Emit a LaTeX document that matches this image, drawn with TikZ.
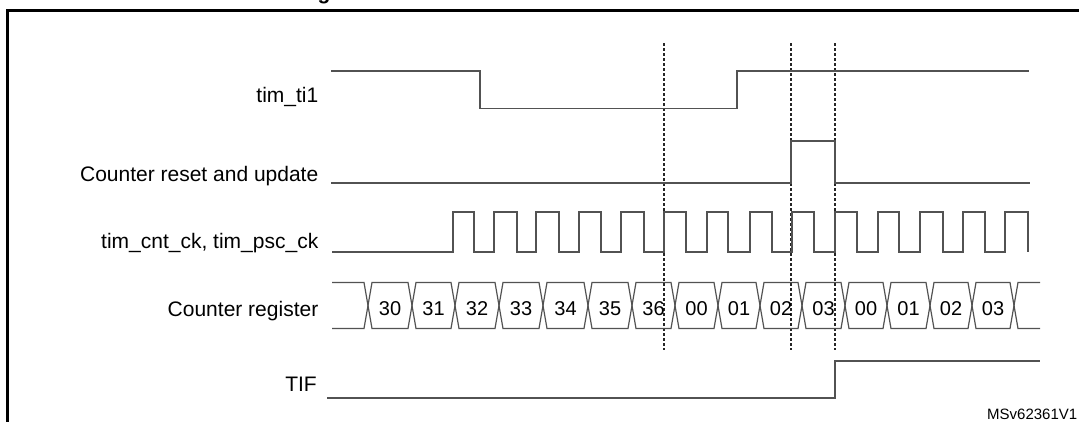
\documentclass[tikz,border=0pt]{standalone}
\usepackage{fontspec}
\setmainfont{Liberation Sans}
\begin{document}
\begin{tikzpicture}[x=1pt,y=-1pt,
  sig/.style={draw=black!68, line width=1.2pt, line join=miter},
  marker/.style={draw=black!85, line width=1.1pt, dash pattern=on 3pt off 2pt},
  lbl/.style={inner sep=0pt, anchor=base east, font=\fontsize{21}{25}\selectfont, text=black},
  val/.style={inner sep=0pt, anchor=base, font=\fontsize{20}{24}\selectfont, text=black}]
\useasboundingbox (0,0) rectangle (1079,421);
% frame
\draw[line width=3pt, black] (7,430) -- (7,10) -- (1090,10);
% partial title descender
\node[inner sep=0pt, anchor=base, font=\bfseries\fontsize{21}{25}\selectfont] (ttl) at (324,-0.5) {g};

% labels
\node[lbl] (l1) at (318.5,102) {tim\_ti1};
\node[lbl] (l2) at (318.5,181) {Counter reset and update};
\node[lbl] (l3) at (318.5,248) {tim\_cnt\_ck, tim\_psc\_ck};
\node[lbl] (l4) at (318.5,316) {Counter register};
\node[lbl] (l5) at (317,391) {TIF};

% dashed markers
\foreach \x in {664,791,835} \draw[marker] (\x,43) -- (\x,350);

% tim_ti1
\draw[sig] (331,71) -- (480,71) -- (480,108.5) -- (737,108.5) -- (737,71) -- (1029,71);
% counter reset and update
\draw[sig] (331,183) -- (791,183) -- (791,141) -- (835,141) -- (835,183) -- (1030,183);
% clock
\draw[sig] (332,252)
  foreach \r/\f in {453/474,494/517,536/559,579/601,621/644,664/686,707/728,750/772,792/814,835/857,878/899,920/943,963/985,1005/1028}
  { -- (\r,252) -- (\r,212) -- (\f,212) -- (\f,252) };
% counter register
\def\d{4}
\draw[sig] (332,282.5) -- (368-\d,282.5) -- (368,305.5) -- (368-\d,328.5) -- (332,328.5);
\foreach \a/\b/\v in {368/412/30,412/455/31,455/499/32,499/543/33,543/588/34,588/632/35,632/675/36,675/718/00,718/760/01,760/802/02,802/845/03,845/887/00,887/930/01,930/972/02,972/1014/03}{
  \draw[sig] (\a,305.5) -- (\a+\d,282.5) -- (\b-\d,282.5) -- (\b,305.5) -- (\b-\d,328.5) -- (\a+\d,328.5) -- cycle;
  \node[val] (v\a) at ({(\a+\b)/2},315.7) {\v};
}
\draw[sig] (1040,282.5) -- (1014+\d,282.5) -- (1014,305.5) -- (1014+\d,328.5) -- (1040,328.5);
% TIF
\draw[sig] (327,398) -- (835,398) -- (835,361) -- (1040,361);

% reference
\node[inner sep=0pt, anchor=base west, font=\fontsize{15}{18}\selectfont, text=black] (ref) at (987,419) {MSv62361V1};
\end{tikzpicture}
\end{document}
